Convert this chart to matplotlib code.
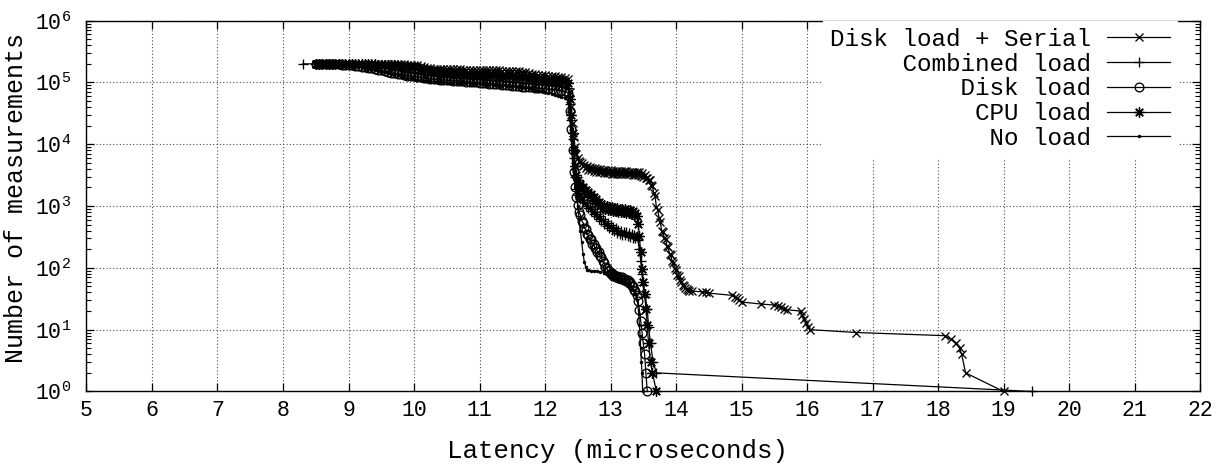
import numpy as np
import matplotlib
matplotlib.use("Agg")
import matplotlib.pyplot as plt

# ---------------- data: number of measurements vs latency (microseconds) ----------------
# shared plateau latency grid
plateau_lat = [8.50, 8.55, 8.60, 8.65, 8.70, 8.75, 8.80, 8.85, 8.90, 8.95,
               9.00, 9.05, 9.10, 9.15, 9.20, 9.25, 9.30, 9.35, 9.40, 9.45,
               9.50, 9.55, 9.60, 9.65, 9.70, 9.75, 9.80, 9.85, 9.90, 9.95,
               10.00, 10.05, 10.10, 10.15, 10.20, 10.25, 10.30, 10.35, 10.40, 10.45,
               10.50, 10.55, 10.60, 10.65, 10.70, 10.75, 10.80, 10.85, 10.90, 10.95,
               11.00, 11.05, 11.10, 11.15, 11.20, 11.25, 11.30, 11.35, 11.40, 11.45,
               11.50, 11.55, 11.60, 11.65, 11.70, 11.75, 11.80, 11.85, 11.90, 11.95,
               12.00, 12.05, 12.10, 12.15, 12.20, 12.25, 12.30, 12.35]

# plateau counts in thousands
serial_plateau_k = [200, 200, 200, 200, 200, 200, 200, 200, 200, 200,
                    200, 200, 200, 200, 200, 199, 199, 199, 199, 199,
                    199, 198, 198, 198, 197, 197, 196, 196, 195, 195,
                    194, 190, 184, 178, 173, 170, 168, 167, 166, 165,
                    165, 164, 164, 163, 163, 162, 162, 161, 161, 160,
                    160, 159, 159, 158, 158, 157, 157, 156, 156, 155,
                    155, 154, 153, 150, 146, 142, 138, 135, 133, 132,
                    130, 128, 127, 125, 123, 121, 119, 112]
cpu_plateau_k = [200, 200, 200, 200, 200, 200, 200, 200, 200, 199,
                 199, 199, 199, 198, 198, 197, 197, 196, 196, 195,
                 194, 193, 192, 190, 189, 187, 185, 183, 181, 178,
                 176, 172, 168, 163, 158, 155, 152, 150, 148, 146,
                 145, 144, 143, 142, 141, 140, 139, 138, 137, 136,
                 135, 134, 133, 132, 131, 130, 129, 128, 127, 126,
                 125, 124, 123, 122, 120, 118, 116, 114, 112, 111,
                 110, 109, 108, 107, 106, 105, 104, 98]
combined_plateau_k = [200, 200, 200, 200, 199, 199, 199, 198, 198, 197,
                      197, 196, 195, 194, 193, 192, 190, 188, 186, 183,
                      180, 177, 173, 169, 165, 161, 157, 153, 150, 147,
                      144, 141, 138, 136, 134, 132, 130, 128, 126, 124,
                      123, 122, 121, 120, 119, 118, 117, 116, 115, 114,
                      113, 112, 111, 110, 109, 108, 107, 106, 105, 104,
                      103, 102, 101, 100, 99, 98, 97, 96, 95, 94,
                      93, 92, 91, 90, 89, 88, 87, 82]
disk_plateau_k = [200, 200, 199, 199, 198, 198, 197, 196, 195, 194,
                  192, 190, 187, 184, 181, 177, 173, 169, 165, 161,
                  157, 153, 149, 145, 141, 138, 135, 132, 129, 127,
                  125, 123, 121, 119, 117, 115, 113, 112, 111, 110,
                  109, 108, 107, 106, 105, 104, 103, 102, 101, 100,
                  99, 98, 97, 96, 95, 94, 93, 92, 91, 90,
                  89, 88, 87, 86, 85, 84, 83, 82, 81, 80,
                  79, 78, 77, 76, 75, 74, 72, 68]
noload_plateau_k = [200, 200, 199, 199, 198, 197, 196, 195, 193, 191,
                    190, 188, 186, 183, 178, 172, 166, 161, 157, 153,
                    150, 146, 142, 138, 134, 130, 126, 122, 119, 116,
                    113, 111, 109, 107, 105, 104, 103, 102, 101, 100,
                    99.5, 99, 98.5, 98, 97.5, 97, 96.5, 96, 95.5, 95,
                    94, 93, 92, 91, 90, 89.5, 89, 88.5, 88, 87,
                    86, 85, 84, 83, 82, 80, 78, 76, 74, 72,
                    70, 68, 66, 63, 60, 58, 56, 52]

# points after the plateau: (latency, count)
serial_tail = [(12.38, 70000), (12.40, 40000), (12.42, 22000), (12.44, 13000), (12.46, 9000),
               (12.48, 7000), (12.50, 6000), (12.52, 5400), (12.54, 5200),
               (12.56, 5000), (12.58, 4400), (12.60, 4700), (12.62, 4100), (12.64, 4500),
               (12.66, 3900), (12.68, 4300), (12.70, 3800), (12.72, 4200), (12.74, 3700),
               (12.76, 4100), (12.78, 3600), (12.80, 4000), (12.82, 3500), (12.84, 3950),
               (12.86, 3500), (12.88, 3900), (12.90, 3450), (12.92, 3850), (12.94, 3400),
               (12.96, 3800), (12.98, 3400), (13.00, 3800), (13.02, 3350), (13.04, 3750),
               (13.06, 3350), (13.08, 3750), (13.10, 3300), (13.12, 3700), (13.14, 3300),
               (13.16, 3700), (13.18, 3300), (13.20, 3650), (13.22, 3250), (13.24, 3650),
               (13.26, 3250), (13.28, 3600), (13.30, 3250), (13.32, 3600), (13.34, 3200),
               (13.36, 3600), (13.38, 3200), (13.40, 3550), (13.42, 3150), (13.44, 3500),
               (13.46, 3100), (13.48, 3400), (13.50, 3000), (13.52, 3200), (13.54, 2800),
               (13.56, 2900), (13.58, 2600), (13.60, 2650), (13.62, 2200), (13.64, 2100),
               (13.66, 1600), (13.68, 1450), (13.70, 950), (13.72, 880), (13.74, 640),
               (13.76, 560), (13.78, 400), (13.80, 380), (13.82, 300), (13.84, 290),
               (13.86, 230), (13.88, 215), (13.90, 170), (13.92, 160), (13.94, 128),
               (13.96, 120), (13.98, 98), (14.00, 92), (14.02, 78), (14.04, 73),
               (14.06, 63), (14.08, 60), (14.10, 53), (14.12, 51), (14.14, 47),
               (14.16, 46), (14.18, 44), (14.20, 43), (14.25, 42), (14.40, 41),
               (14.45, 40), (14.50, 39), (14.85, 36), (14.90, 34), (14.93, 32),
               (14.96, 30), (15.00, 28), (15.30, 26), (15.50, 25), (15.55, 24),
               (15.60, 23), (15.65, 22), (15.70, 21), (15.90, 20), (15.93, 17),
               (15.96, 15), (15.99, 13), (16.02, 11), (16.05, 10), (16.75, 9),
               (18.10, 8), (18.20, 7), (18.28, 6), (18.33, 5), (18.36, 4),
               (18.42, 2), (19.00, 1)]

cpu_tail = [(12.38, 55000), (12.40, 30000), (12.42, 15000), (12.44, 8000), (12.46, 4500),
            (12.48, 3200), (12.50, 2600), (12.52, 2150), (12.54, 2300), (12.56, 1900),
            (12.58, 2050), (12.60, 1750), (12.62, 1850), (12.64, 1600), (12.66, 1700),
            (12.68, 1450), (12.70, 1550), (12.72, 1330), (12.74, 1400), (12.76, 1200),
            (12.78, 1280), (12.80, 1080), (12.82, 1180), (12.84, 1000), (12.86, 1080),
            (12.88, 930), (12.90, 1030), (12.92, 900), (12.94, 990), (12.96, 870),
            (12.98, 960), (13.00, 850), (13.02, 950), (13.04, 830), (13.06, 930),
            (13.08, 820), (13.10, 920), (13.12, 810), (13.14, 910), (13.16, 800),
            (13.18, 900), (13.20, 790), (13.22, 890), (13.24, 780), (13.26, 880),
            (13.28, 770), (13.30, 860), (13.32, 750), (13.34, 820), (13.36, 720),
            (13.38, 760), (13.40, 680), (13.42, 520), (13.44, 330), (13.46, 180),
            (13.48, 95), (13.50, 60), (13.52, 38), (13.54, 22), (13.56, 12),
            (13.58, 6), (13.61, 3), (13.64, 2), (13.70, 1)]

combined_first = [(8.30, 200000)]
combined_tail = [(12.38, 45000), (12.40, 25000), (12.42, 12000), (12.44, 6000), (12.46, 3000),
                 (12.48, 1900), (12.50, 1500), (12.52, 1600), (12.54, 1300), (12.56, 1400),
                 (12.58, 1150), (12.60, 1250), (12.62, 1020), (12.64, 1120), (12.66, 930),
                 (12.68, 1000), (12.70, 830), (12.72, 900), (12.74, 750), (12.76, 810),
                 (12.78, 680), (12.80, 740), (12.82, 620), (12.84, 680), (12.86, 570),
                 (12.88, 620), (12.90, 520), (12.92, 570), (12.94, 480), (12.96, 530),
                 (12.98, 445), (13.00, 490), (13.02, 415), (13.04, 460), (13.06, 390),
                 (13.08, 435), (13.10, 370), (13.12, 415), (13.14, 355), (13.16, 400),
                 (13.18, 345), (13.20, 385), (13.22, 335), (13.24, 375), (13.26, 325),
                 (13.28, 365), (13.30, 320), (13.32, 355), (13.34, 310), (13.36, 345),
                 (13.38, 300), (13.40, 330), (13.42, 280), (13.44, 200), (13.46, 130),
                 (13.48, 80), (13.50, 52), (13.53, 34), (13.56, 22), (13.58, 11),
                 (13.61, 6), (13.65, 3), (13.70, 2), (19.43, 1)]

disk_tail = [(12.38, 35000), (12.40, 18000), (12.42, 8000), (12.44, 3500), (12.46, 2000),
             (12.48, 1400), (12.50, 1050), (12.52, 800), (12.54, 720), (12.56, 580),
             (12.58, 540), (12.60, 440), (12.62, 420), (12.64, 350), (12.66, 340),
             (12.68, 290), (12.70, 290), (12.72, 245), (12.74, 245), (12.76, 210),
             (12.78, 210), (12.80, 180), (12.82, 180), (12.84, 155), (12.86, 150),
             (12.88, 128), (12.90, 122), (12.92, 104), (12.94, 100), (12.96, 88),
             (12.98, 88), (13.00, 80), (13.02, 82), (13.04, 75), (13.06, 78),
             (13.08, 71), (13.10, 75), (13.12, 69), (13.14, 72), (13.16, 66),
             (13.18, 70), (13.20, 64), (13.22, 67), (13.24, 61), (13.26, 63),
             (13.28, 57), (13.30, 58), (13.32, 51), (13.34, 50), (13.36, 44),
             (13.38, 42), (13.40, 36), (13.42, 29), (13.44, 21), (13.46, 14),
             (13.48, 9), (13.50, 6), (13.52, 4), (13.54, 2), (13.56, 1)]

noload_tail = [(12.38, 25000), (12.40, 12000), (12.42, 5000), (12.44, 3000), (12.46, 2000),
               (12.48, 1400), (12.50, 1000), (12.52, 620), (12.54, 400), (12.56, 260),
               (12.58, 170), (12.60, 125), (12.62, 105), (12.64, 94), (12.66, 92),
               (12.70, 90), (12.75, 89), (12.80, 88), (12.84, 87), (12.90, 84),
               (12.95, 80), (13.00, 76), (13.05, 72), (13.10, 68), (13.15, 65),
               (13.20, 61), (13.25, 56), (13.30, 50), (13.35, 44), (13.38, 38),
               (13.41, 30), (13.43, 18), (13.44, 12), (13.45, 8), (13.46, 5),
               (13.47, 3), (13.48, 2), (13.49, 1)]

x_ticks = list(range(5, 23))
labels = ["Disk load + Serial", "Combined load", "Disk load", "CPU load", "No load"]


# ---------------- assemble series ----------------
def series(plat_k, tail, head=()):
    pts = list(head) + [(x, k * 1000) for x, k in zip(plateau_lat, plat_k)] + list(tail)
    xs = np.array([p[0] for p in pts])
    ys = np.array([p[1] for p in pts], dtype=float)
    return xs, ys


data = [
    series(serial_plateau_k, serial_tail),
    series(combined_plateau_k, combined_tail, combined_first),
    series(disk_plateau_k, disk_tail),
    series(cpu_plateau_k, cpu_tail),
    series(noload_plateau_k, noload_tail),
]
styles = [
    dict(marker="x", ms=6.0, mew=0.95),
    dict(marker="+", ms=7.5, mew=0.95),
    dict(marker="o", ms=6.3, mew=0.95, mfc="none"),
    dict(marker=(8, 2, 0), ms=7.5, mew=0.95),
    dict(marker="o", ms=2.0, mew=0.5),
]

# ---------------- plotting ----------------
plt.rcParams["font.family"] = ["Liberation Mono", "DejaVu Sans Mono"]
plt.rcParams["mathtext.fontset"] = "custom"
plt.rcParams["mathtext.rm"] = "Liberation Mono"
plt.rcParams["mathtext.it"] = "Liberation Mono"
plt.rcParams["mathtext.bf"] = "Liberation Mono"

fig = plt.figure(figsize=(12.23, 4.69), dpi=100)
ax = fig.add_axes([0.0707, 0.1653, 0.9106, 0.7906])

maxlen = max(len(s) for s in labels)
for (xs, ys), st, lab in zip(data, styles, labels):
    ax.plot(xs, ys, color="black", lw=0.9, label=lab.rjust(maxlen), clip_on=False, **st)

ax.set_yscale("log")
ax.set_xlim(5, 22)
ax.set_ylim(1, 1e6)
ax.set_xticks(x_ticks)
ax.set_xticklabels([str(t) for t in x_ticks])
ax.tick_params(axis="both", which="both", direction="in", top=True, right=True)
ax.tick_params(axis="both", which="major", length=6, width=0.9, labelsize=15.5, pad=6)
ax.tick_params(axis="y", which="major", pad=11)
ax.tick_params(axis="y", which="minor", length=3.5, width=0.8)
ax.grid(True, which="major", color="0.3", lw=0.8, ls=(0, (1, 2)))
for sp in ax.spines.values():
    sp.set_linewidth(1.0)

ax.set_xlabel("Latency (microseconds)", fontsize=18.5, labelpad=13)
ax.set_ylabel("Number of measurements", fontsize=18, labelpad=5)
ax.xaxis.label.set_x(0.477)
ax.yaxis.label.set_y(0.522)

leg = ax.legend(loc="upper right", bbox_to_anchor=(0.9796, 1.0), markerfirst=False,
                fontsize=17.5, frameon=True, framealpha=1.0, fancybox=False,
                edgecolor="white", facecolor="white", handlelength=2.6,
                handletextpad=0.66, labelspacing=0.07, borderpad=0.3, borderaxespad=0.0,
                numpoints=1)
leg.set_zorder(5)

fig.savefig("out.png", dpi=100)
